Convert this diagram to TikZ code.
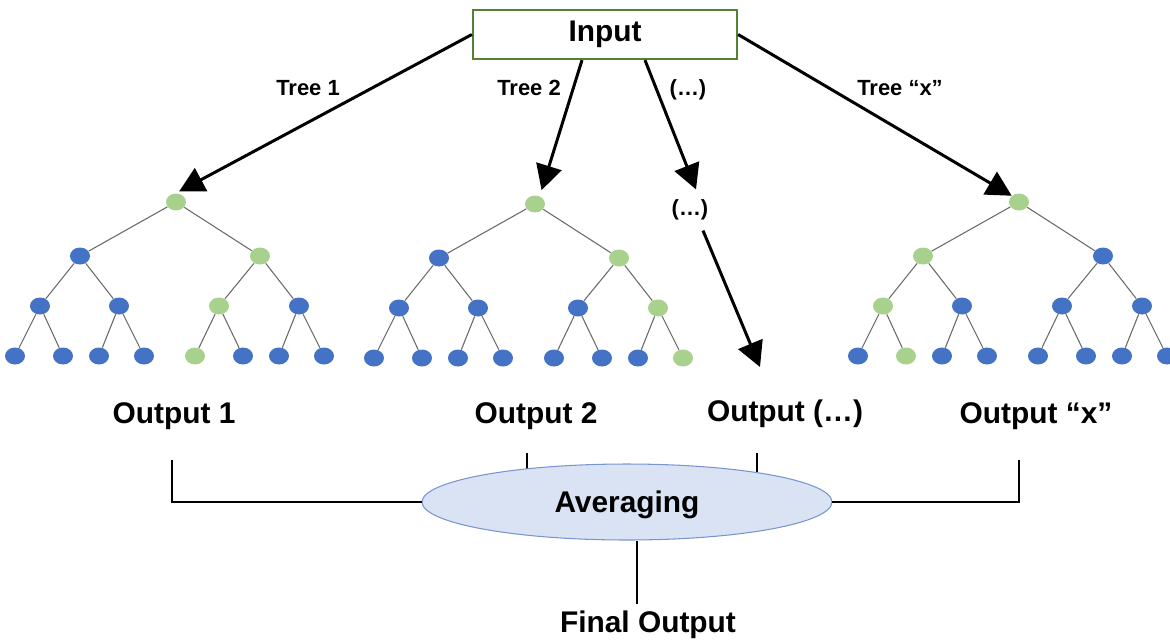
\documentclass[tikz,border=0pt]{standalone}
\usepackage{fontspec}
\setmainfont{Liberation Sans}
\usetikzlibrary{arrows.meta,shapes.geometric,backgrounds}
\definecolor{leaf_green}{RGB}{169,209,142}
\definecolor{leaf_blue}{RGB}{68,114,196}
\definecolor{twig_gray}{RGB}{105,105,105}
\definecolor{box_green}{RGB}{84,130,53}
\definecolor{avg_fill}{RGB}{218,227,243}
\definecolor{avg_edge}{RGB}{120,150,205}

% one decision tree: name prefix, root x, root y, fills in heap order
\newcommand{\dtree}[4]{%
  \foreach \c [count=\i] in {#4} {
    \pgfmathsetmacro{\dx}{{0,-96,84,-136,-57,43,123,-161,-113,-77,-32,19,67,103,148}[\i-1]}
    \pgfmathsetmacro{\dy}{{0,54,54,104,104,104,104,154,154,154,154,154,154,154,154}[\i-1]}
    \node[leaf, fill=\c] (#1\i) at ({#2+\dx},{#3+\dy}) {};
  }
  \foreach \i in {2,...,15} {
    \pgfmathtruncatemacro{\p}{\i/2}
    \draw[twig] (#1\p) -- (#1\i);
  }
}

\begin{document}
\begin{tikzpicture}[x=0.02cm,y=-0.02cm]
    \tikzstyle{leaf}=[ellipse, minimum width=0.4cm, minimum height=0.34cm, inner sep=0pt]
    \tikzstyle{twig}=[draw=twig_gray, line width=0.6pt]
    \tikzstyle{branch}=[-{Triangle[length=0.5cm,width=0.52cm]}, line width=1.7pt]
    \tikzstyle{bracket}=[line width=1.1pt]
    \tikzstyle{big}=[font=\bfseries\fontsize{17}{20}\selectfont]
    \tikzstyle{small}=[font=\bfseries\fontsize{12.5}{15}\selectfont]

    \useasboundingbox (0,0) rectangle (1170,640);

    \node[big, draw=box_green, line width=1.3pt, minimum width=5.28cm, minimum height=0.98cm] (in) at (605,34.5) {Input};

    \dtree{a}{176}{202}{leaf_green,leaf_blue,leaf_green,leaf_blue,leaf_blue,leaf_green,leaf_blue,leaf_blue,leaf_blue,leaf_blue,leaf_blue,leaf_green,leaf_blue,leaf_blue,leaf_blue}
    \dtree{b}{535}{204}{leaf_green,leaf_blue,leaf_green,leaf_blue,leaf_blue,leaf_blue,leaf_green,leaf_blue,leaf_blue,leaf_blue,leaf_blue,leaf_blue,leaf_blue,leaf_blue,leaf_green}
    \dtree{c}{1019}{202}{leaf_green,leaf_green,leaf_blue,leaf_green,leaf_blue,leaf_blue,leaf_blue,leaf_blue,leaf_green,leaf_blue,leaf_blue,leaf_blue,leaf_blue,leaf_blue,leaf_blue}

    \node[small, anchor=base] (t1) at (308,95) {Tree 1};
    \node[small, anchor=base] (t2) at (529,95) {Tree 2};
    \node[small, anchor=base] (t3) at (688,95) {(…)};
    \node[small, anchor=base] (t4) at (900,95) {Tree “x”};
    \node[small, inner sep=0.2cm] (dots) at (690,210) {(…)};
    \coordinate (dend) at (760,367);

    \draw[branch, shorten >=2pt] (in.west) -- (a1.north);
    \draw[branch, shorten >=3pt] ([xshift=-0.46cm]in.south) -- ([xshift=0.1cm]b1.north);
    \draw[branch] ([xshift=0.8cm]in.south) -- ([xshift=0.12cm]dots.north);
    \draw[branch] ([xshift=0.26cm]dots.south) -- (dend);
    \draw[branch] (in.east) -- (c1.north west);

    \node[big, anchor=base] (o1) at (174,423) {Output 1};
    \node[big, anchor=base] (o2) at (536,423) {Output 2};
    \node[big, anchor=base] (o3) at (785,421) {Output (…)};
    \node[big, anchor=base] (o4) at (1036,423) {Output “x”};

    \node[big, ellipse, draw=avg_edge, fill=avg_fill, line width=0.6pt, inner sep=0pt, text depth=0pt,
          minimum width=8.2cm, minimum height=1.52cm] (avg) at (627,502) {Averaging};
    \node[big, anchor=base] (fin) at (648,632) {Final Output};

    \coordinate (k1) at (172,460);
    \coordinate (k2) at (527,453);
    \coordinate (k3) at (757,453);
    \coordinate (k4) at (1019,460);

    \draw[bracket] (k1) |- (avg.west);
    \draw[bracket] (k4) |- (avg.east);
    \begin{pgfonlayer}{background}
      \draw[bracket] (k2) -- (k2 |- avg.center);
      \draw[bracket] (k3) -- (k3 |- avg.center);
    \end{pgfonlayer}
    \draw[bracket] ([xshift=0.2cm]avg.south) -- ([xshift=0.2cm]avg.south |- fin.north);
\end{tikzpicture}
\end{document}
